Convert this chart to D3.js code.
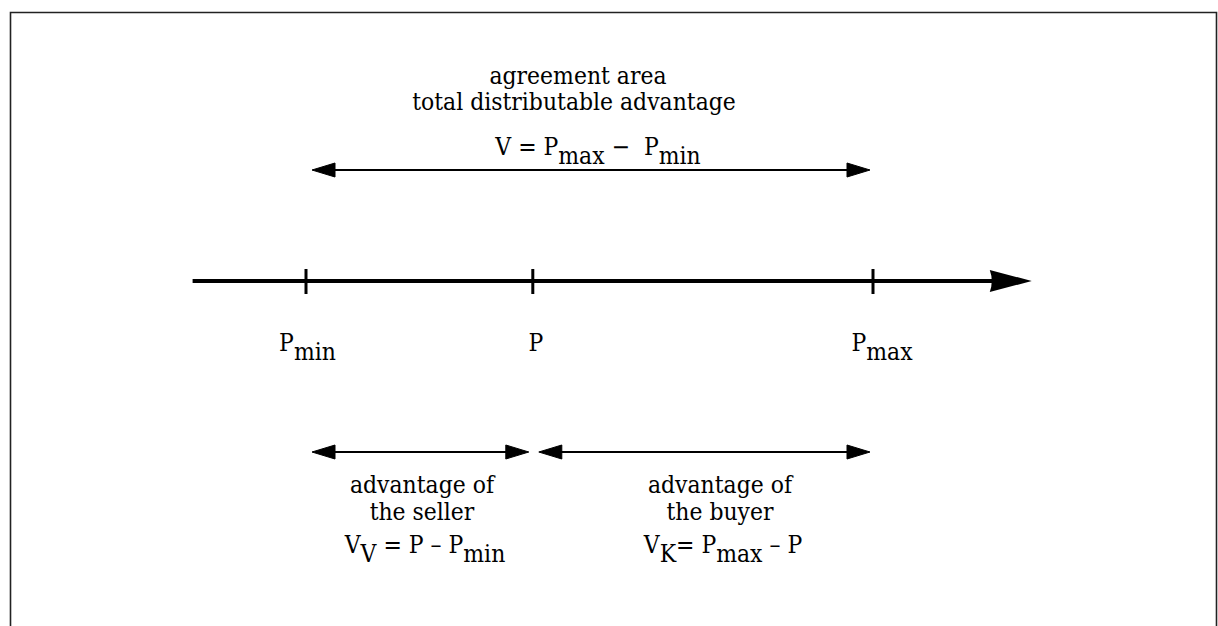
<!DOCTYPE html>
<html>
<head>
<meta charset="utf-8">
<script src="https://cdn.jsdelivr.net/npm/d3@7"></script>
<style>
  html, body { margin: 0; padding: 0; background: #fff; }
  svg { display: block; }
</style>
</head>
<body>
<svg id="chart" width="1218" height="626"></svg>
<script>
// ---- data ----
const pricePoints = ["Pmin", "P", "Pmax"];
const priceValues = [1, 2, 3.5];
const axisDomain = [0.5, 4.2];
const priceLabels = [
  [{t: "P"}, {t: "min", sub: true}],
  [{t: "P"}],
  [{t: "P"}, {t: "max", sub: true}]
];
const topTitle = ["agreement area", "total distributable advantage"];
const topFormula = [{t: "V = P"}, {t: "max", sub: true}, {t: " \u2212\u00a0\u00a0P"}, {t: "min", sub: true}];
const rangeArrows = [
  {from: "Pmin", to: "Pmax", row: "top"},
  {from: "Pmin", to: "P", row: "bottom"},
  {from: "P", to: "Pmax", row: "bottom"}
];
const bottomTitles = [["advantage of", "the seller"], ["advantage of", "the buyer"]];
const bottomFormulas = [
  [{t: "V"}, {t: "V", sub: true}, {t: " = P \u2013 P"}, {t: "min", sub: true}],
  [{t: "V"}, {t: "K", sub: true}, {t: "= P"}, {t: "max", sub: true}, {t: " \u2013 P"}]
];

// ---- drawing ----
const FONT = "'DejaVu Serif', serif";
const svg = d3.select("#chart").attr("font-family", FONT);
const fs = 24;
const sx = 0.915;   // horizontal condensing to mimic a Times-like width
const valueOf = Object.fromEntries(pricePoints.map((k, i) => [k, priceValues[i]]));
const x = d3.scaleLinear().domain([1, 3.5]).range([306, 873]);

// frame
svg.append("path")
  .attr("d", "M10.5,640 V12.5 H1216.5 V640")
  .attr("fill", "none").attr("stroke", "#222").attr("stroke-width", 1.6);

// main axis
const axisY = 281;
const axStart = x(axisDomain[0]), axEnd = x(axisDomain[1]);
svg.append("line").attr("x1", axStart).attr("x2", axEnd - 30)
  .attr("y1", axisY).attr("y2", axisY).attr("stroke", "#000").attr("stroke-width", 4);
svg.append("path")
  .attr("d", `M${axEnd},${axisY} L${axEnd - 42},${axisY - 11} Q${axEnd - 38},${axisY} ${axEnd - 42},${axisY + 11} Z`)
  .attr("fill", "#000");

// ticks
svg.selectAll("line.tick").data(priceValues).join("line").attr("class", "tick")
  .attr("x1", d => x(d)).attr("x2", d => x(d))
  .attr("y1", axisY - 12).attr("y2", axisY + 13)
  .attr("stroke", "#000").attr("stroke-width", 3);

function richText(g, parts, cx, y, subDy) {
  const t = g.append("text").attr("x", 0).attr("y", 0)
    .attr("transform", `translate(${cx},${y}) scale(${sx},1)`)
    .attr("text-anchor", "middle").attr("font-size", fs)
    .style("font-family", FONT)
    .style("white-space", "pre");
  let shifted = false;
  parts.forEach(p => {
    const ts = t.append("tspan").text(p.t);
    if (p.sub && !shifted) { ts.attr("dy", subDy); shifted = true; }
    else if (!p.sub && shifted) { ts.attr("dy", -subDy); shifted = false; }
  });
  return t;
}

// price labels
const labelOffsets = [1.5, 3, 9];
priceLabels.forEach((parts, i) => {
  richText(svg, parts, x(priceValues[i]) + labelOffsets[i], 351, 9);
});

// range arrows
function doubleArrow(x1, x2, y) {
  const L = 23, H = 7;
  svg.append("line").attr("x1", x1 + L - 2).attr("x2", x2 - L + 2)
    .attr("y1", y).attr("y2", y).attr("stroke", "#000").attr("stroke-width", 2);
  svg.append("path").attr("d", `M${x1},${y} L${x1 + L},${y - H} L${x1 + L},${y + H} Z`)
    .attr("fill", "#000").attr("stroke", "#000").attr("stroke-width", 1).attr("stroke-linejoin", "round");
  svg.append("path").attr("d", `M${x2},${y} L${x2 - L},${y - H} L${x2 - L},${y + H} Z`)
    .attr("fill", "#000").attr("stroke", "#000").attr("stroke-width", 1).attr("stroke-linejoin", "round");
}
const rowY = {top: 170, bottom: 452};
rangeArrows.forEach(a => {
  const x1 = x(valueOf[a.from]) + 6;
  const x2 = x(valueOf[a.to]) - (a.to === "P" ? 4 : 3);
  doubleArrow(x1, x2, rowY[a.row]);
});

// top texts
const topCx = [578, 574];
const topY = [84, 110];
topTitle.forEach((line, i) => {
  richText(svg, [{t: line}], topCx[i], topY[i], 0);
});
richText(svg, topFormula, 598, 155, 9);

// bottom texts
const bottomCx = [422, 720];
const formulaCx = [425, 723];
const bottomY = [493, 520];
bottomTitles.forEach((lines, i) => {
  lines.forEach((line, j) => {
    richText(svg, [{t: line}], bottomCx[i], bottomY[j], 0);
  });
  richText(svg, bottomFormulas[i], formulaCx[i], 553, 9);
});
</script>
</body>
</html>
